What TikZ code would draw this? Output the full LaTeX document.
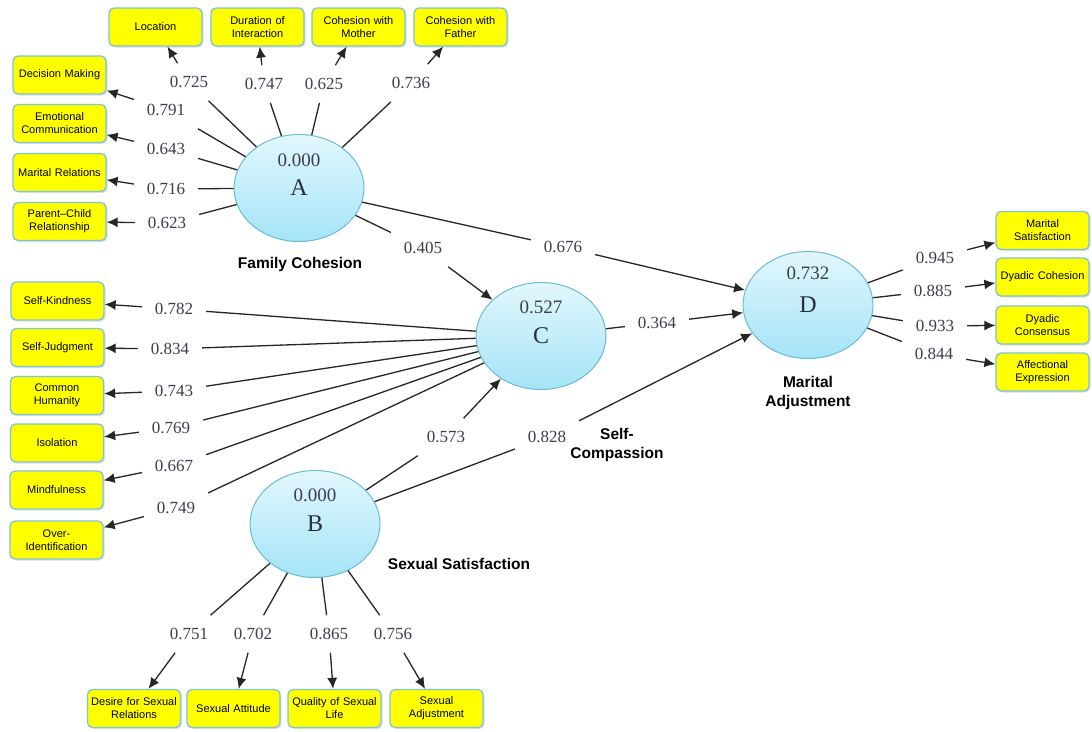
\documentclass[tikz,border=0pt]{standalone}
\usepackage{fontspec}
\setmainfont{Liberation Serif}
\setsansfont{Liberation Sans}
\usetikzlibrary{arrows.meta,shapes.geometric,shadows}
\definecolor{boxfill}{HTML}{FFFF00}
\definecolor{boxline}{HTML}{7EC3D8}
\definecolor{lvtop}{HTML}{E2F7FD}
\definecolor{lvbot}{HTML}{A4E4F7}
\definecolor{lvline}{HTML}{6BBBD1}
\definecolor{ink}{HTML}{2B2F3A}
\definecolor{coefink}{HTML}{3B3F4C}

\begin{document}
\begin{tikzpicture}[
  x=1pt,y=-1pt,
  box/.style={draw=boxline,line width=1.3pt,fill=boxfill,rounded corners=5pt,minimum width=93pt,minimum height=38pt,text width=91pt,align=center,inner sep=1pt,font=\sffamily\fontsize{11}{13}\selectfont,drop shadow={opacity=0.25,shadow xshift=1.5pt,shadow yshift=-1.5pt}},
  latent/.style={ellipse,draw=lvline,line width=1pt,top color=lvtop,bottom color=lvbot,minimum width=130pt,minimum height=107pt,inner sep=0pt,text=ink,font=\fontsize{24}{26}\selectfont},
  rsq/.style={text=coefink,font=\fontsize{19}{21}\selectfont},
  coef/.style={text=coefink,inner sep=2pt,outer sep=11pt,font=\fontsize{17}{19}\selectfont},
  caption/.style={align=center,font=\sffamily\bfseries\fontsize{15.5}{19.5}\selectfont},
  link/.style={line width=1.3pt,draw=black!85},
  arrow/.style={-{Latex[length=11pt,width=10pt]},line width=1.3pt,draw=black!85}
]
  \fill[white] (0,0) rectangle (1092,731);
  \useasboundingbox (0,0) rectangle (1092,731);

  % latent variables
  \node[latent] (A) at (299,188) {A};
  \node[latent] (C) at (541,336) {C};
  \node[latent] (B) at (315,524) {B};
  \node[latent] (D) at (808,305) {D};
  \node[rsq] (rA) at (299,160) {0.000};
  \node[rsq] (rC) at (541,307) {0.527};
  \node[rsq] (rB) at (315,495) {0.000};
  \node[rsq] (rD) at (808,273) {0.732};

  \node[caption] (nA) at (300,264) {Family Cohesion};
  \node[caption] (nC) at (617,445) {Self-\\Compassion};
  \node[caption] (nB) at (459,564) {Sexual Satisfaction};
  \node[caption] (nD) at (808,393) {Marital\\Adjustment};

  % indicators of A
  \node[box] (loc) at (155.5,27) {Location};
  \node[box] (dur) at (257.5,27) {Duration of\\Interaction};
  \node[box] (mot) at (358.5,27) {Cohesion with\\Mother};
  \node[box] (fat) at (460.5,27) {Cohesion with\\Father};
  \node[box] (dm) at (59.5,75) {Decision Making};
  \node[box] (ec) at (59.5,123.5) {Emotional\\Communication};
  \node[box] (mr) at (59.5,172.5) {Marital Relations};
  \node[box] (pc) at (59.5,221.5) {Parent--Child\\Relationship};

  % indicators of C
  \node[box] (sk) at (57.5,301) {Self-Kindness};
  \node[box] (sj) at (57.5,347.5) {Self-Judgment};
  \node[box] (ch) at (57,395.5) {Common\\Humanity};
  \node[box] (iso) at (57,443) {Isolation};
  \node[box] (mf) at (56.5,490) {Mindfulness};
  \node[box] (oi) at (56.5,540) {Over-\\Identification};

  % indicators of B
  \node[box] (dsr) at (134,708.5) {Desire for Sexual\\Relations};
  \node[box] (sa) at (233.5,708.5) {Sexual Attitude};
  \node[box] (qsl) at (334.5,708.5) {Quality of Sexual\\Life};
  \node[box] (sad) at (436.5,708.5) {Sexual\\Adjustment};

  % indicators of D
  \node[box] (ms) at (1042.5,230.5) {Marital\\Satisfaction};
  \node[box] (dc) at (1042.5,277) {Dyadic Cohesion};
  \node[box] (dcs) at (1042.5,325) {Dyadic\\Consensus};
  \node[box] (ae) at (1042.5,372) {Affectional\\Expression};

  % loadings
  \node[coef] (lloc) at (189,82) {0.725};
  \node[coef] (ldur) at (264,84) {0.747};
  \node[coef] (lmot) at (324,84) {0.625};
  \node[coef] (lfat) at (411,83) {0.736};
  \node[coef] (ldm) at (166,110) {0.791};
  \node[coef] (lec) at (166,149) {0.643};
  \node[coef] (lmr) at (166,189) {0.716};
  \node[coef] (lpc) at (167,223) {0.623};
  \node[coef] (lsk) at (174,309) {0.782};
  \node[coef] (lsj) at (170,349) {0.834};
  \node[coef] (lch) at (174,391) {0.743};
  \node[coef] (liso) at (171,428) {0.769};
  \node[coef] (lmf) at (174,466) {0.667};
  \node[coef] (loi) at (176,508) {0.749};
  \node[coef] (ldsr) at (189,634) {0.751};
  \node[coef] (lsa) at (253,634) {0.702};
  \node[coef] (lqsl) at (329,634) {0.865};
  \node[coef] (lsad) at (393,634) {0.756};
  \node[coef] (lms) at (935,258) {0.945};
  \node[coef] (ldc) at (933,291) {0.885};
  \node[coef] (ldcs) at (935,326) {0.933};
  \node[coef] (lae) at (934,354) {0.844};

  % path coefficients
  \node[coef] (l405) at (423,248) {0.405};
  \node[coef] (l676) at (563,247) {0.676};
  \node[coef] (l364) at (657,323) {0.364};
  \node[coef] (l573) at (446,437) {0.573};
  \node[coef] (l828) at (547,437) {0.828};

  \foreach \lv/\cf/\ind in {A/lloc/loc,A/ldur/dur,A/lmot/mot,A/lfat/fat,A/ldm/dm,A/lec/ec,A/lmr/mr,A/lpc/pc,
    C/lsk/sk,C/lsj/sj,C/lch/ch,C/liso/iso,C/lmf/mf,C/loi/oi,
    B/ldsr/dsr,B/lsa/sa,B/lqsl/qsl,B/lsad/sad,
    D/lms/ms,D/ldc/dc,D/ldcs/dcs,D/lae/ae}{
    \draw[link] (\lv) -- (\cf);
    \draw[arrow] (\cf) -- (\ind);
  }

  \draw[link] (A) -- (l405);
  \draw[arrow] (l405) -- (C);
  \draw[link] (A) -- (l676);
  \draw[arrow] (l676) -- (D);
  \draw[link] (C) -- (l364);
  \draw[arrow] (l364) -- (D);
  \draw[link] (B) -- (l573);
  \draw[arrow] (l573) -- (C);
  \draw[link] (B) -- (l828);
  \draw[arrow] (l828) -- (D);
\end{tikzpicture}
\end{document}
